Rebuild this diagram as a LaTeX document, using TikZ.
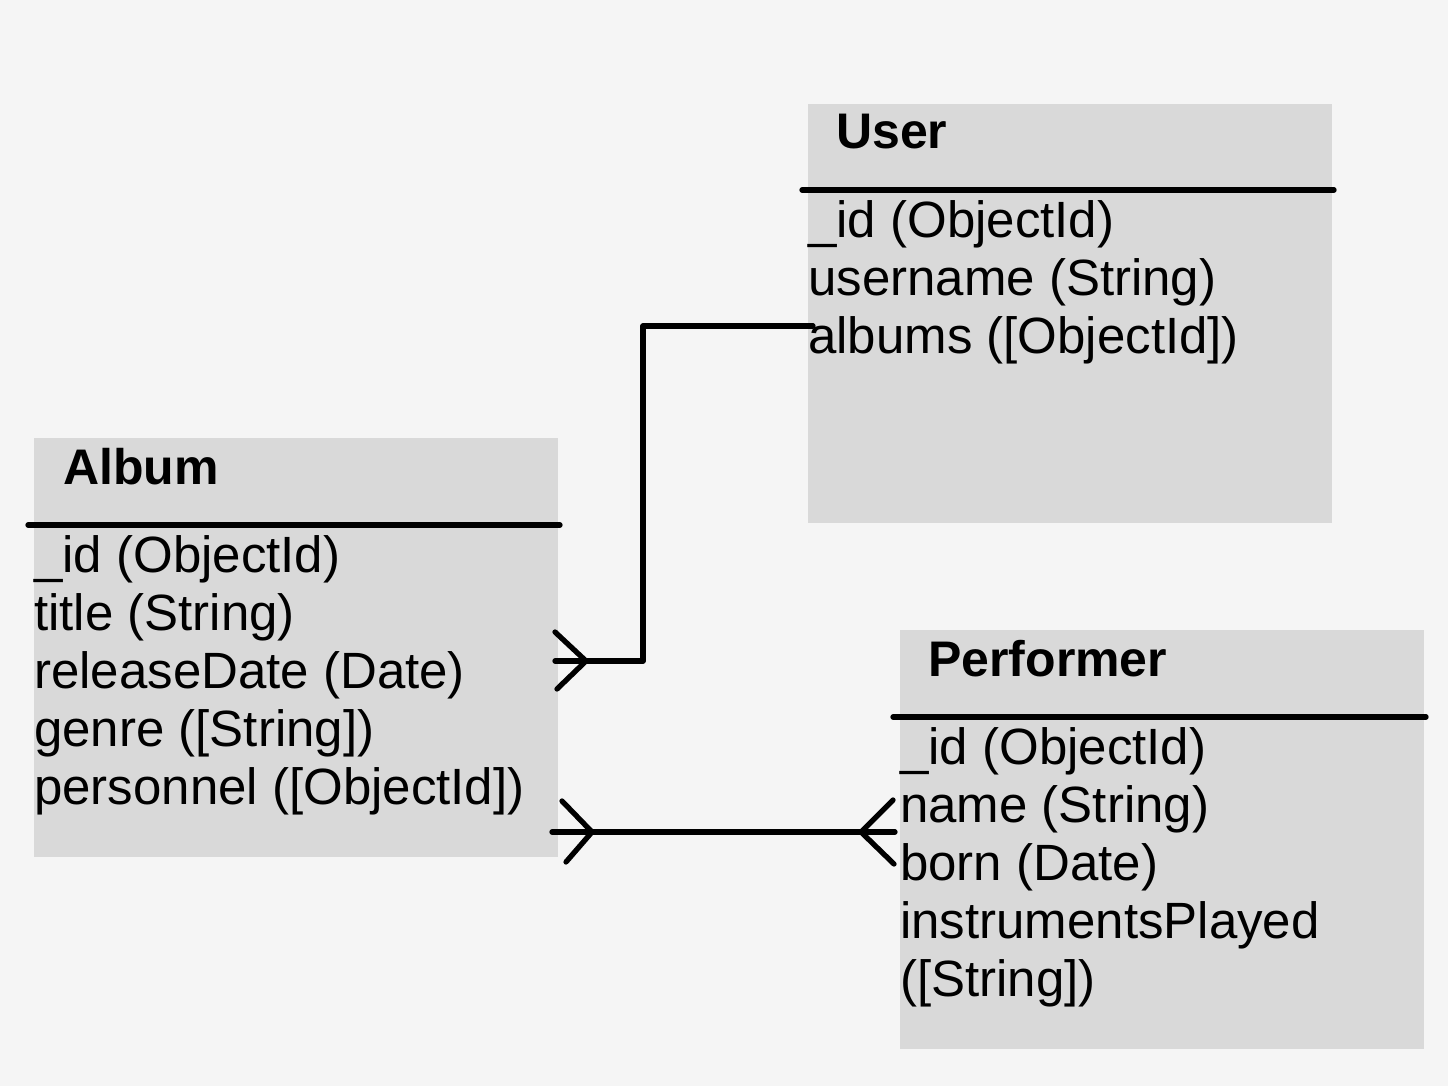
\documentclass[tikz,border=0pt]{standalone}
\usepackage{fontspec}
\setmainfont{Liberation Sans}
\definecolor{bgcol}{HTML}{F5F5F5}
\definecolor{boxgray}{HTML}{D9D9D9}
\begin{document}
\begin{tikzpicture}[x=1pt,y=-1pt,
  entity/.style={fill=boxgray, draw=none, inner sep=0pt, anchor=north west, minimum width=524pt, minimum height=419pt},
  rule/.style={line width=5.3pt, line cap=round},
  conn/.style={line width=5.3pt, line cap=round, line join=round},
  head/.style={anchor=base west, inner sep=0pt, font=\fontsize{50}{60}\selectfont\bfseries},
  field/.style={anchor=base west, inner sep=0pt, font=\fontsize{51}{58}\selectfont}]
\useasboundingbox (0,0) rectangle (1448,1086);
\fill[bgcol] (0,0) rectangle (1448,1086);

% entity boxes
\node[entity] (user) at (808,104) {};
\node[entity] (album) at (34,438) {};
\node[entity] (perf) at (900,630) {};

% header rules
\draw[rule] (802,190) -- (1334,190);
\draw[rule] (28,525) -- (560,525);
\draw[rule] (893,717) -- (1426,717);

% User
\node[head] (userh) at (836,149) {User};
\node[field] (u1) at (808,237) {\_id (ObjectId)};
\node[field] (u2) at (808,295) {username (String)};
\node[field] (u3) at (808,353) {albums ([ObjectId])};

% Album
\node[head] (albumh) at (63,484) {Album};
\node[field] (a1) at (34,572) {\_id (ObjectId)};
\node[field] (a2) at (34,630) {title (String)};
\node[field] (a3) at (34,688) {releaseDate (Date)};
\node[field] (a4) at (34,746) {genre ([String])};
\node[field] (a5) at (34,804) {personnel ([ObjectId])};

% Performer
\node[head] (perfh) at (928,676) {Performer};
\node[field] (p1) at (900,764) {\_id (ObjectId)};
\node[field] (p2) at (900,822) {name (String)};
\node[field] (p3) at (900,880) {born (Date)};
\node[field] (p4) at (900,938) {instrumentsPlayed};
\node[field] (p5) at (900,996) {([String])};

% connector User.albums -> Album
\coordinate (c1s) at (813,326);
\coordinate (c1a) at (643,326);
\coordinate (c1b) at (643,661);
\coordinate (c1e) at (555,661);
\coordinate (c1f) at (586,661);
\draw[conn] (c1s) -- (c1a) -- (c1b) -- (c1e);
\draw[conn] (555,632) -- (c1f) -- (557,689);

% connector Album.personnel <-> Performer
\coordinate (c2s) at (552,832);
\coordinate (c2e) at (895,832);
\coordinate (c2l) at (592,832);
\coordinate (c2r) at (861,832);
\draw[conn] (c2s) -- (c2e);
\draw[conn] (562,801) -- (c2l) -- (566,862);
\draw[conn] (893,800) -- (c2r) -- (894,864);
\end{tikzpicture}
\end{document}
